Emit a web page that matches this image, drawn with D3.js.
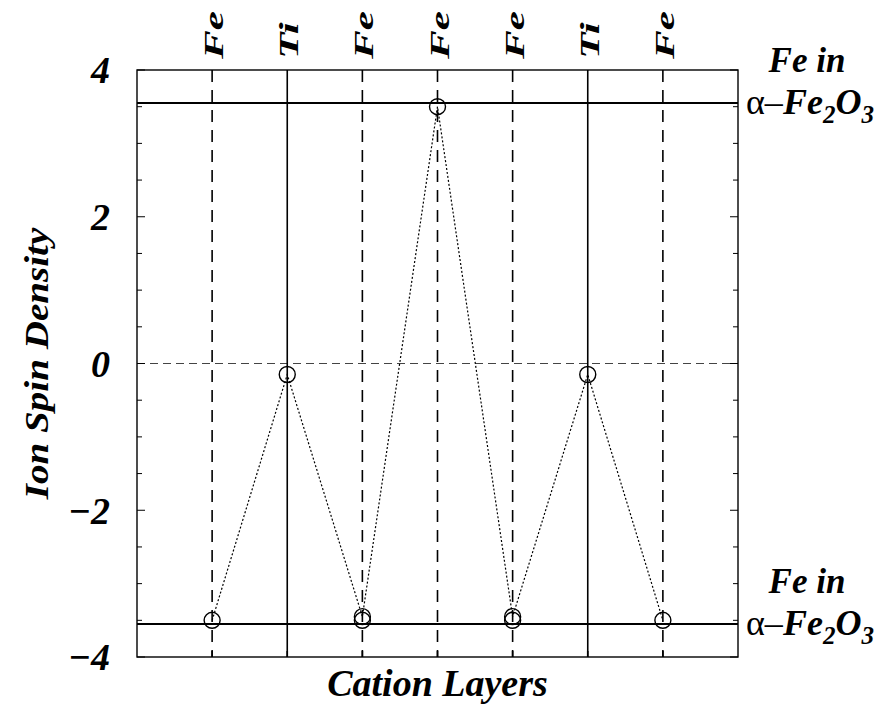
<!DOCTYPE html>
<html>
<head>
<meta charset="utf-8">
<script src="https://cdn.jsdelivr.net/npm/d3@7"></script>
<style>
  body { margin: 0; background: #fff; }
  text { font-family: "Liberation Serif", "Times New Roman", serif; font-weight: bold; font-style: italic; }
</style>
</head>
<body>
<svg id="chart" width="888" height="706"></svg>
<script>
const layers = ['Fe', 'Ti', 'Fe', 'Fe', 'Fe', 'Ti', 'Fe'];
const spin = [-3.5, -0.15, -3.45, 3.5, -3.45, -0.15, -3.5];
const spinAlt = [null, null, -3.5, null, -3.5, null, null];
const bulkFe = [3.55, -3.55];
const yTicks = [-4, -2, 0, 2, 4];
const yMinor = d3.range(-4, 4.01, 0.5);

const mL = 137, mR = 738, mT = 70, mB = 657;

const svg = d3.select('#chart');
const x = d3.scaleLinear().domain([0, layers.length + 1]).range([mL, mR]);
const y = d3.scaleLinear().domain([-4, 4]).range([mB, mT]);

// zero reference
svg.append('line')
  .attr('x1', mL).attr('x2', mR).attr('y1', y(0)).attr('y2', y(0))
  .attr('stroke', '#444').attr('stroke-width', 1).attr('stroke-dasharray', '8,5');

// layer lines: dashed for Fe, solid for Ti
svg.append('g').selectAll('line').data(layers).join('line')
  .attr('x1', (d, i) => x(i + 1)).attr('x2', (d, i) => x(i + 1))
  .attr('y1', mT).attr('y2', mB)
  .attr('stroke', '#000').attr('stroke-width', 1.6)
  .attr('stroke-dasharray', d => d === 'Fe' ? '12,8' : null);

// bulk hematite levels
svg.append('g').selectAll('line').data(bulkFe).join('line')
  .attr('x1', mL).attr('x2', mR).attr('y1', d => y(d)).attr('y2', d => y(d))
  .attr('stroke', '#000').attr('stroke-width', 1.8);

// frame
svg.append('rect').attr('x', mL).attr('y', mT).attr('width', mR - mL).attr('height', mB - mT)
  .attr('fill', 'none').attr('stroke', '#000').attr('stroke-width', 1.4);

// ticks inside left and right
const tk = svg.append('g').attr('stroke', '#000').attr('stroke-width', 1);
for (const side of [mL, mR]) {
  const dir = side === mL ? 1 : -1;
  tk.append('g').selectAll('line').data(yMinor).join('line')
    .attr('x1', side).attr('x2', d => side + dir * (yTicks.includes(d) ? 8 : 5))
    .attr('y1', d => y(d)).attr('y2', d => y(d));
}
// small ticks along bottom at each layer
tk.append('g').selectAll('line').data(layers).join('line')
  .attr('x1', (d, i) => x(i + 1)).attr('x2', (d, i) => x(i + 1))
  .attr('y1', mB).attr('y2', mB - 6).attr('stroke-width', 1.6);

svg.append('g').selectAll('text').data(yTicks).join('text')
  .attr('x', 110).attr('y', d => y(d)).attr('dy', '0.35em')
  .attr('text-anchor', 'end').attr('font-size', 38)
  .text(d => d < 0 ? '\u2212' + Math.abs(d) : d);

// spin density trace
const line = d3.line().x((d, i) => x(i + 1)).y(d => y(d));
svg.append('path').datum(spin).attr('d', line)
  .attr('fill', 'none').attr('stroke', '#000').attr('stroke-width', 1.2).attr('stroke-dasharray', '2,2');

const pts = spin.map((v, i) => ({ i, v })).concat(
  spinAlt.map((v, i) => ({ i, v })).filter(d => d.v !== null));
svg.append('g').selectAll('circle').data(pts).join('circle')
  .attr('cx', d => x(d.i + 1)).attr('cy', d => y(d.v)).attr('r', 8)
  .attr('fill', 'none').attr('stroke', '#000').attr('stroke-width', 1.4);

// layer labels along the top (rotated text is drawn tall in the original)
svg.append('g').selectAll('text').data(layers).join('text')
  .attr('transform', (d, i) => `translate(${x(i + 1) + 11},59) rotate(-90) scale(1.6,1)`)
  .attr('font-size', 27).text(d => d);

// bulk labels on the right
for (const v of bulkFe) {
  const g = svg.append('g').attr('transform', `translate(0,${y(v)})`);
  g.append('text').attr('x', 807).attr('y', -31).attr('text-anchor', 'middle')
    .attr('font-size', 35).text('Fe in');
  const t = g.append('text').attr('x', 746).attr('y', 11).attr('font-size', 36);
  t.append('tspan').attr('font-style', 'normal').attr('font-weight', 'normal').text('\u03b1\u2013');
  t.append('tspan').text('Fe');
  t.append('tspan').attr('font-size', 25).attr('dy', 9).text('2');
  t.append('tspan').attr('dy', -9).text('O');
  t.append('tspan').attr('font-size', 25).attr('dy', 9).text('3');
}

svg.append('text').attr('x', (mL + mR) / 2).attr('y', 696).attr('text-anchor', 'middle')
  .attr('font-size', 38).text('Cation Layers');
svg.append('text').attr('transform', `translate(48,${y(0)}) rotate(-90) scale(1.15,1)`)
  .attr('text-anchor', 'middle').attr('font-size', 34).text('Ion Spin Density');
</script>
</body>
</html>
